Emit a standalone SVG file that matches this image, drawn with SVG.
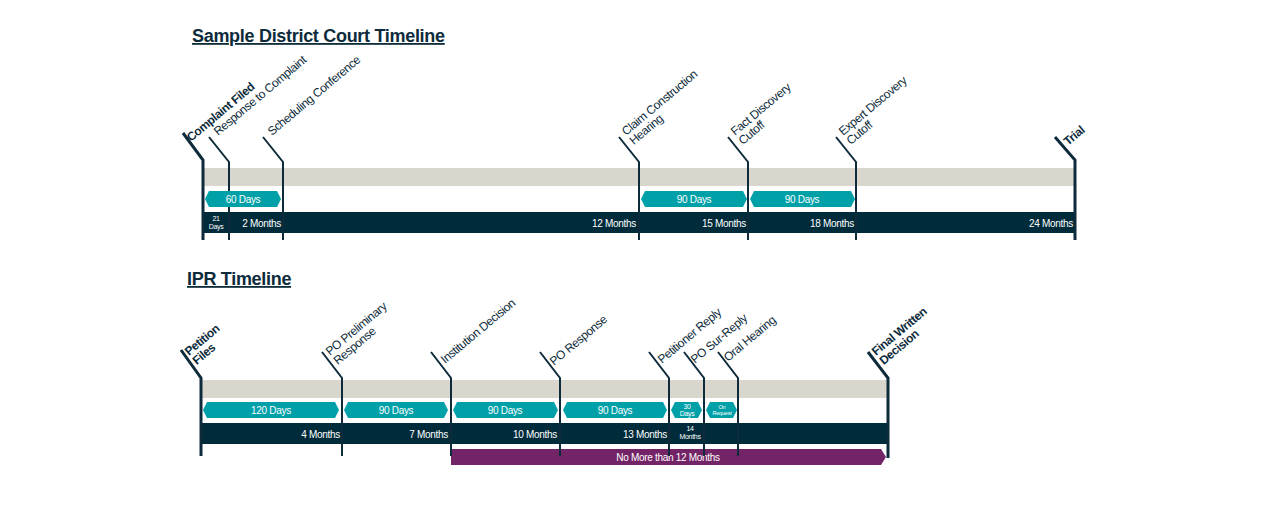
<svg xmlns="http://www.w3.org/2000/svg" width="1280" height="510" viewBox="0 0 1280 510">
<style>
.t{font-family:"Liberation Sans",Arial,sans-serif;fill:#0d2b3a}
.title{font-size:18px;font-weight:bold;text-decoration:underline;letter-spacing:-0.3px}
.lbl{font-size:12px;letter-spacing:-0.4px}
.b{font-weight:bold}
.w{font-family:"Liberation Sans",Arial,sans-serif;fill:#fff;font-size:10px;letter-spacing:-0.3px}
.s{font-size:7px}
.xs{font-size:5.5px;letter-spacing:-0.2px}
.tk{stroke:#0d2b3a;stroke-width:2;fill:none}
.tkb{stroke:#0d2b3a;stroke-width:3;fill:none}
.teal{fill:#00a0a8}
</style>
<rect width="1280" height="510" fill="#fff"/>
<text class="t title" x="192" y="42">Sample District Court Timeline</text>
<text class="t title" x="187" y="285">IPR Timeline</text>
<g id="bars">
<rect x="203" y="168" width="872" height="18" fill="#d9d6ce"/>
<rect x="203" y="212" width="872" height="21" fill="#002b3a"/>
<rect x="201" y="380" width="687" height="18" fill="#d9d6ce"/>
<rect x="201" y="423" width="687" height="21" fill="#002b3a"/>
<polygon points="451,449 881,449 886,457 881,465 451,465" fill="#722466"/>
<text class="w" x="668" y="461" text-anchor="middle">No More than  12 Months</text>
</g>
<g id="connectors">
<path class="tkb" d="M183,133 L203,160 V240"/>
<path class="tk" d="M209,137 L229,162 V240"/>
<path class="tk" d="M263,137 L283,162 V240"/>
<path class="tk" d="M619,137 L639,162 V240"/>
<path class="tk" d="M728,137 L748,162 V240"/>
<path class="tk" d="M836,137 L856,162 V240"/>
<path class="tkb" d="M1055,137 L1075,160 V240"/>
<path class="tkb" d="M181,350 L201,378 V456"/>
<path class="tk" d="M322,352 L342,378 V456"/>
<path class="tk" d="M431,352 L451,378 V456"/>
<path class="tk" d="M540,352 L560,378 V456"/>
<path class="tk" d="M649,352 L669,378 V456"/>
<path class="tk" d="M684,352 L704,378 V456"/>
<path class="tk" d="M718,352 L738,378 V456"/>
<path class="tkb" d="M868,352 L888,378 V458"/>
</g>
<g id="labels-top">
<text class="t lbl b" transform="translate(191,142) rotate(-40)">Complaint Filed</text>
<text class="t lbl" transform="translate(218,136) rotate(-40)">Response to Complaint</text>
<text class="t lbl" transform="translate(272,136) rotate(-40)">Scheduling Conference</text>
<text class="t lbl" transform="translate(626,136) rotate(-40)">Claim Construction<tspan x="0" dy="12">Hearing</tspan></text>
<text class="t lbl" transform="translate(735,136) rotate(-40)">Fact Discovery<tspan x="0" dy="12">Cutoff</tspan></text>
<text class="t lbl" transform="translate(843,136) rotate(-40)">Expert Discovery<tspan x="0" dy="12">Cutoff</tspan></text>
<text class="t lbl b" transform="translate(1068,146) rotate(-40)">Trial</text>
</g>
<g id="pills-top">
<polygon class="teal" points="209,191 277,191 281,199 277,207 209,207 205,199"/>
<text class="w" x="243" y="203" text-anchor="middle">60 Days</text>
<polygon class="teal" points="645,191 743,191 747,199 743,207 645,207 641,199"/>
<text class="w" x="694" y="203" text-anchor="middle">90 Days</text>
<polygon class="teal" points="754,191 851,191 855,199 851,207 754,207 750,199"/>
<text class="w" x="802" y="203" text-anchor="middle">90 Days</text>
</g>
<g id="months-top">
<text class="w s" x="216" y="221" text-anchor="middle">21<tspan x="216" dy="8">Days</tspan></text>
<text class="w" x="281" y="227" text-anchor="end">2 Months</text>
<text class="w" x="636" y="227" text-anchor="end">12 Months</text>
<text class="w" x="746" y="227" text-anchor="end">15 Months</text>
<text class="w" x="854" y="227" text-anchor="end">18 Months</text>
<text class="w" x="1073" y="227" text-anchor="end">24 Months</text>
</g>
<g id="labels-bottom">
<text class="t lbl b" transform="translate(189,356) rotate(-40)">Petition<tspan x="0" dy="12">Files</tspan></text>
<text class="t lbl" transform="translate(330,356) rotate(-40)">PO Preliminary<tspan x="0" dy="12">Response</tspan></text>
<text class="t lbl" transform="translate(445,364) rotate(-40)">Institution  Decision</text>
<text class="t lbl" transform="translate(554,366) rotate(-40)">PO Response</text>
<text class="t lbl" transform="translate(662,364) rotate(-40)">Petitioner  Reply</text>
<text class="t lbl" transform="translate(695,364) rotate(-40)">PO Sur-Reply</text>
<text class="t lbl" transform="translate(728,362) rotate(-40)">Oral Hearing</text>
<text class="t lbl b" transform="translate(876,356) rotate(-40)">Final Written<tspan x="0" dy="12">Decision</tspan></text>
</g>
<g id="pills-bottom">
<polygon class="teal" points="207,402 335,402 339,410 335,418 207,418 203,410"/>
<text class="w" x="271" y="414" text-anchor="middle">120 Days</text>
<polygon class="teal" points="348,402 444,402 448,410 444,418 348,418 344,410"/>
<text class="w" x="396" y="414" text-anchor="middle">90 Days</text>
<polygon class="teal" points="457,402 554,402 558,410 554,418 457,418 453,410"/>
<text class="w" x="505" y="414" text-anchor="middle">90 Days</text>
<polygon class="teal" points="567,402 663,402 667,410 663,418 567,418 563,410"/>
<text class="w" x="615" y="414" text-anchor="middle">90 Days</text>
<polygon class="teal" points="675,402 698,402 702,410 698,418 675,418 671,410"/>
<text class="w s" x="687" y="409" text-anchor="middle">30<tspan x="687" dy="7">Days</tspan></text>
<polygon class="teal" points="710,402 733,402 737,410 733,418 710,418 706,410"/>
<text class="w xs" x="722" y="409" text-anchor="middle">On<tspan x="722" dy="6">Request</tspan></text>
</g>
<g id="months-bottom">
<text class="w" x="340" y="438" text-anchor="end">4 Months</text>
<text class="w" x="448" y="438" text-anchor="end">7 Months</text>
<text class="w" x="557" y="438" text-anchor="end">10 Months</text>
<text class="w" x="667" y="438" text-anchor="end">13 Months</text>
<text class="w s" x="690" y="431" text-anchor="middle">14<tspan x="690" dy="8">Months</tspan></text>
</g>
</svg>
